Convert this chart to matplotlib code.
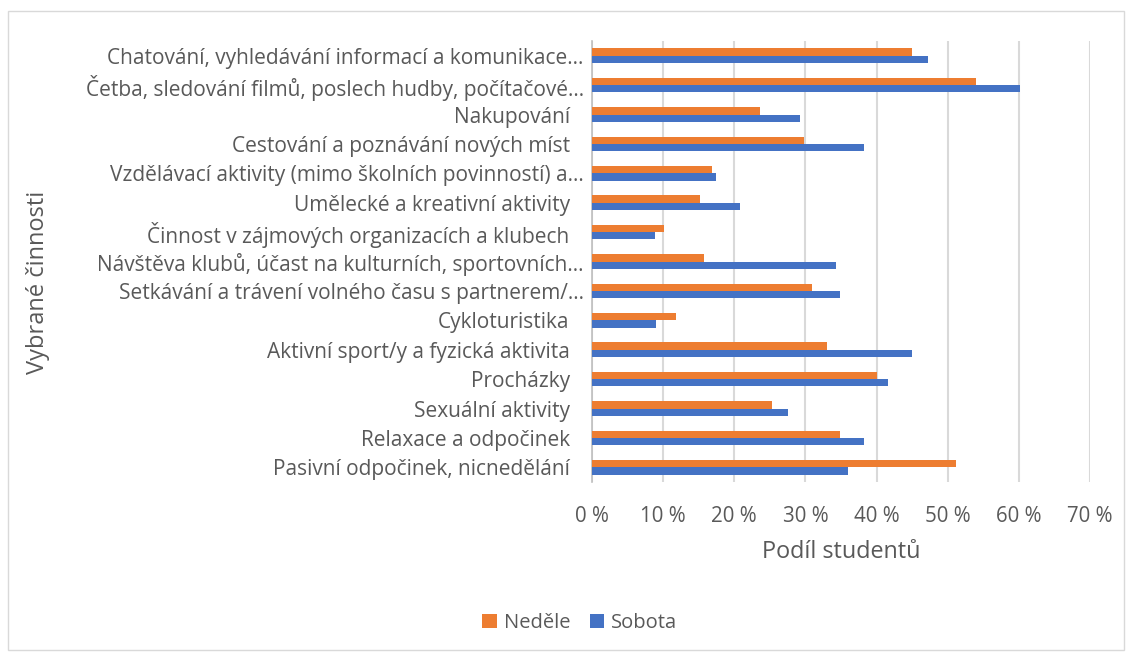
import matplotlib.pyplot as plt
import numpy as np
from matplotlib.patches import Rectangle
from matplotlib.transforms import ScaledTranslation

plt.rcParams['font.family'] = ['Open Sans', 'DejaVu Sans']

categories = [
    'Chatování, vyhledávání informací a komunikace…',
    'Četba, sledování filmů, poslech hudby, počítačové…',
    'Nakupování',
    'Cestování a poznávání nových míst',
    'Vzdělávací aktivity (mimo školních povinností) a…',
    'Umělecké a kreativní aktivity',
    'Činnost v zájmových organizacích a klubech',
    'Návštěva klubů, účast na kulturních, sportovních…',
    'Setkávání a trávení volného času s partnerem/…',
    'Cykloturistika',
    'Aktivní sport/y a fyzická aktivita',
    'Procházky',
    'Sexuální aktivity',
    'Relaxace a odpočinek',
    'Pasivní odpočinek, nicnedělání',
]
nedele = [45.0, 54.0, 23.6, 29.8, 16.8, 15.2, 10.1, 15.7, 30.9, 11.8, 33.1, 40.0, 25.3, 34.8, 51.2]
sobota = [47.2, 60.1, 29.2, 38.2, 17.4, 20.8, 8.9, 34.3, 34.8, 9.0, 45.0, 41.6, 27.5, 38.2, 36.0]
xticks = [0, 10, 20, 30, 40, 50, 60, 70]

gray = '#595959'
fig = plt.figure(figsize=(11.32, 6.55), dpi=100)
ax = fig.add_axes([592 / 1132, 1 - 482 / 655, 498 / 1132, 441 / 655])

y = np.arange(len(categories))[::-1]
h = 0.25
ax.barh(y + h / 2, nedele, height=h, color='#ed7d31', label='Neděle', zorder=3)
ax.barh(y - h / 2, sobota, height=h, color='#4472c4', label='Sobota', zorder=3)

ax.set_xlim(0, 70)
ax.set_ylim(-0.5, len(categories) - 0.5)
ax.set_xticks(xticks)
ax.set_xticklabels([f'{t} %' for t in xticks])
ax.set_yticks(y)
ax.set_yticklabels(categories)
ax.tick_params(axis='x', length=0, labelsize=14.8, labelcolor=gray, pad=17)
ax.tick_params(axis='y', length=0, labelsize=15, labelcolor=gray, pad=6)
# labels without ellipsis sit a bit further left
for lab in ax.get_yticklabels():
    if not lab.get_text().endswith('…'):
        lab.set_transform(lab.get_transform() + ScaledTranslation(-0.14, 0, fig.dpi_scale_trans))
ax.grid(axis='x', color='#d9d9d9', linewidth=1.5, zorder=0)
for s in ['top', 'right', 'bottom']:
    ax.spines[s].set_visible(False)
ax.spines['left'].set_color('#bfbfbf')
ax.spines['left'].set_linewidth(1.2)

ax.set_xlabel('Podíl studentů', fontsize=16.8, color=gray, labelpad=10)
fig.text(38 / 1132, 1 - 282 / 655, 'Vybrané činnosti', rotation=90, fontsize=17,
         color=gray, ha='center', va='center')

handles = [ax.containers[0], ax.containers[1]]
fig.legend(handles, ['Neděle', 'Sobota'], loc='center', bbox_to_anchor=(580 / 1132, 1 - 623 / 655),
           ncol=2, frameon=False, fontsize=14.5, labelcolor=gray, handlelength=0.7,
           handleheight=0.7, handletextpad=0.35, columnspacing=1.0)

fig.patches.append(Rectangle((8 / 1132, 1 - 650 / 655), 1116 / 1132, 639 / 655,
                             transform=fig.transFigure, fill=False, edgecolor='#d9d9d9', linewidth=1))

fig.savefig('out.png', dpi=100)
